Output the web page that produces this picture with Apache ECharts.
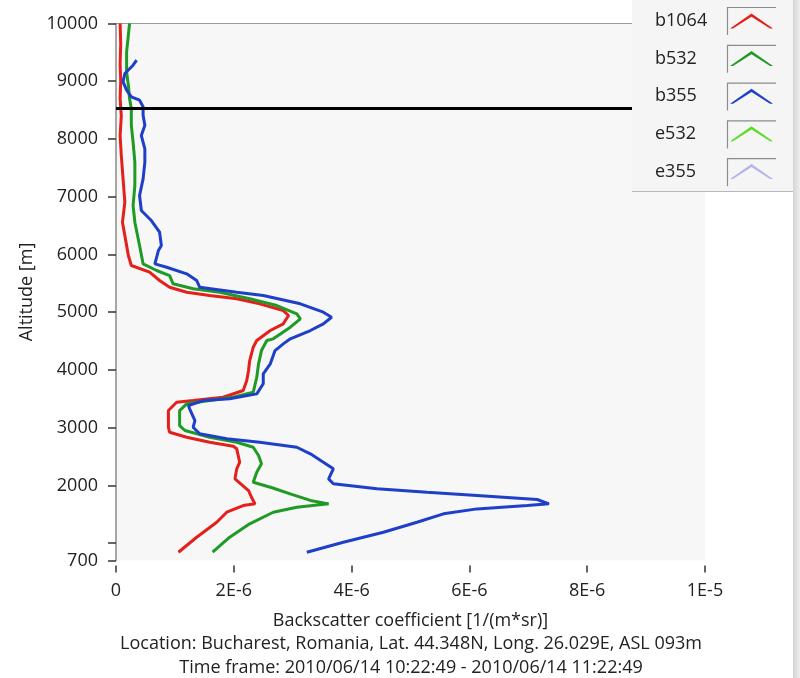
<!DOCTYPE html>
<html>
<head>
<meta charset="utf-8">
<title>Backscatter profiles</title>
<script src="https://cdn.jsdelivr.net/npm/echarts@6/dist/echarts.min.js"></script>
<style>
  html, body { margin: 0; padding: 0; background: #ffffff; }
  #chart { width: 800px; height: 678px; }
</style>
</head>
<body>
<div id="chart"></div>
<script>
// Backscatter coefficient profiles, values in units of 1E-6 1/(m*sr)
const UNIT = 1e-6;

const ALT_B1064 = [843, 1103, 1363, 1536, 1652, 1681, 1795, 1912, 2114, 2287, 2402, 2634, 2679, 2748, 2835, 2921, 3008, 3297, 3441, 3470, 3527, 3644, 3817, 3990, 4163, 4394, 4510, 4683, 4799, 4943, 5029, 5145, 5232, 5289, 5346, 5433, 5549, 5693, 5809, 5982, 6328, 6559, 6905, 7310, 7714, 8060, 8400, 8700, 9000, 9300, 9650, 10000];
const VAL_B1064 = [1.06, 1.37, 1.71, 1.88, 2.16, 2.36, 2.30, 2.25, 2.02, 2.05, 2.10, 2.05, 1.99, 1.59, 1.20, 0.91, 0.89, 0.89, 1.03, 1.31, 1.82, 2.16, 2.22, 2.25, 2.27, 2.33, 2.39, 2.62, 2.84, 2.93, 2.84, 2.44, 2.05, 1.59, 1.20, 0.91, 0.74, 0.57, 0.26, 0.21, 0.15, 0.11, 0.15, 0.12, 0.09, 0.07, 0.09, 0.07, 0.08, 0.07, 0.08, 0.07];

const ALT_B532 = [843, 1103, 1335, 1536, 1622, 1681, 1740, 1850, 1960, 2055, 2228, 2374, 2518, 2661, 2748, 2835, 2951, 3037, 3297, 3413, 3470, 3527, 3614, 3874, 4106, 4336, 4510, 4539, 4740, 4885, 4972, 5116, 5232, 5346, 5405, 5492, 5635, 5722, 5838, 6155, 6559, 6848, 7194, 7598, 7944, 8239, 8528, 8701, 8931, 9163, 9510, 9797, 10000];
const VAL_B532 = [1.64, 1.93, 2.27, 2.67, 3.07, 3.61, 3.30, 2.97, 2.65, 2.33, 2.39, 2.47, 2.42, 2.33, 2.05, 1.59, 1.17, 1.08, 1.08, 1.20, 1.59, 1.99, 2.33, 2.39, 2.42, 2.47, 2.56, 2.67, 2.96, 3.13, 3.07, 2.73, 2.27, 1.76, 1.31, 0.97, 0.91, 0.69, 0.46, 0.40, 0.32, 0.29, 0.32, 0.32, 0.29, 0.26, 0.26, 0.23, 0.21, 0.18, 0.18, 0.21, 0.23];

const ALT_B355 = [843, 1016, 1189, 1363, 1508, 1594, 1652, 1681, 1756, 1825, 1882, 1941, 2028, 2114, 2287, 2402, 2547, 2661, 2748, 2807, 2894, 3008, 3124, 3327, 3384, 3470, 3500, 3586, 3760, 3933, 4106, 4336, 4452, 4539, 4683, 4799, 4913, 5000, 5145, 5289, 5346, 5433, 5549, 5665, 5779, 5838, 6068, 6155, 6385, 6588, 6761, 7021, 7310, 7598, 7830, 8060, 8239, 8412, 8557, 8672, 8730, 8845, 8990, 9134, 9278, 9364];
const VAL_B355 = [3.24, 3.86, 4.54, 5.11, 5.56, 6.13, 6.98, 7.35, 7.15, 6.13, 5.28, 4.43, 3.69, 3.61, 3.69, 3.52, 3.30, 3.07, 2.44, 1.88, 1.42, 1.31, 1.34, 1.25, 1.23, 1.48, 1.93, 2.39, 2.50, 2.50, 2.62, 2.70, 2.84, 2.96, 3.30, 3.52, 3.66, 3.52, 3.13, 2.50, 2.05, 1.42, 1.37, 1.20, 0.86, 0.66, 0.72, 0.77, 0.74, 0.60, 0.43, 0.40, 0.46, 0.49, 0.49, 0.43, 0.49, 0.46, 0.46, 0.40, 0.26, 0.18, 0.12, 0.15, 0.29, 0.35];

// Extinction channels are listed in the legend but carry no profile here
const ALT_E532 = [];
const VAL_E532 = [];
const ALT_E355 = [];
const VAL_E355 = [];

const SERIES_NAMES = ['b1064', 'b532', 'b355', 'e532', 'e355'];
const SERIES_COLORS = ['#e3201c', '#1f9a25', '#1e3fc8', '#5ddc2a', '#b4b4ec'];

// Reference altitude marker (horizontal line)
const MARK_ALTITUDE = 8530;

const Y_LABEL_VALUES = [700, 2000, 3000, 4000, 5000, 6000, 7000, 8000, 9000, 10000];
const Y_TICK_VALUES = [700, 1000, 2000, 3000, 4000, 5000, 6000, 7000, 8000, 9000, 10000];

const X_NAME = 'Backscatter coefficient [1/(m*sr)]';
const Y_NAME = 'Altitude [m]';
const INFO_LINES = [
  'Location: Bucharest, Romania, Lat. 44.348N, Long. 26.029E, ASL 093m',
  'Time frame: 2010/06/14 10:22:49 - 2010/06/14 11:22:49'
];

const FONT = '"Open Sans", "DejaVu Sans", sans-serif';
const TEXT_COLOR = '#222222';

function pairs(alts, vals) {
  return alts.map((a, i) => [vals[i] * UNIT, a]);
}

const profiles = [
  pairs(ALT_B1064, VAL_B1064),
  pairs(ALT_B532, VAL_B532),
  pairs(ALT_B355, VAL_B355),
  pairs(ALT_E532, VAL_E532),
  pairs(ALT_E355, VAL_E355)
];

const caret = 'path://M0,15 L21.5,0 L43,15 L40,15 L21.5,3.2 L3,15 Z';

const chart = echarts.init(document.getElementById('chart'), null, { renderer: 'canvas' });

const series = SERIES_NAMES.map((name, i) => ({
  name: name,
  type: 'line',
  xAxisIndex: 0,
  yAxisIndex: 0,
  data: profiles[i],
  showSymbol: false,
  symbol: 'none',
  animation: false,
  z: 2,
  lineStyle: { color: SERIES_COLORS[i], width: 3 },
  itemStyle: { color: SERIES_COLORS[i] }
}));

series[2].markLine = {
  silent: true,
  symbol: 'none',
  animation: false,
  z: 3,
  label: { show: false },
  lineStyle: { color: '#000000', width: 3, type: 'solid' },
  data: [{ yAxis: MARK_ALTITUDE }]
};

// Legend panel, its shadow and the icon boxes
const LEGEND_ROW = 37.8;
const legendGraphics = [
  {
    type: 'rect', z: 20, silent: true,
    shape: { x: 632, y: 0, width: 161, height: 192 },
    style: { fill: '#f5f5f5' }
  },
  {
    type: 'line', z: 20, silent: true,
    shape: { x1: 632, y1: 191.5, x2: 793, y2: 191.5 },
    style: { stroke: '#b8b8b8', lineWidth: 1 }
  },
  {
    type: 'rect', z: 20, silent: true,
    shape: { x: 793, y: 0, width: 7, height: 678 },
    style: {
      fill: new echarts.graphic.LinearGradient(0, 0, 1, 0, [
        { offset: 0, color: '#d4d4d4' },
        { offset: 1, color: '#eeeeee' }
      ])
    }
  }
];
for (let i = 0; i < SERIES_NAMES.length; i++) {
  const y0 = 7 + i * LEGEND_ROW;
  legendGraphics.push({
    type: 'polyline', z: 22, silent: true,
    shape: { points: [[727.5, y0 + 28], [727.5, y0 + 0.5], [776, y0 + 0.5]] },
    style: { stroke: '#8c8c8c', lineWidth: 1.2, fill: null }
  });
}

const infoGraphics = INFO_LINES.map((t, i) => ({
  type: 'text', z: 22, silent: true,
  x: 411, y: 644 + i * 24,
  style: {
    text: t, fill: TEXT_COLOR, font: '18px ' + FONT,
    align: 'center', verticalAlign: 'middle'
  }
}));

const option = {
  backgroundColor: '#ffffff',
  animation: false,
  textStyle: { fontFamily: FONT },
  grid: {
    left: 116, right: 95, top: 23.5, bottom: 117.5,
    show: true, backgroundColor: '#f7f7f7', borderWidth: 0
  },
  legend: {
    orient: 'vertical',
    left: 655,
    top: 12,
    padding: 0,
    itemGap: 19.6,
    itemWidth: 43,
    itemHeight: 15,
    align: 'right',
    icon: caret,
    selectedMode: false,
    z: 21,
    formatter: name => '{a|' + name + '}',
    textStyle: {
      fontFamily: FONT, fontSize: 18, color: TEXT_COLOR,
      rich: { a: { fontFamily: FONT, fontSize: 18, color: TEXT_COLOR, width: 70, align: 'left' } }
    },
    data: SERIES_NAMES
  },
  xAxis: [
    {
      type: 'value',
      position: 'bottom',
      min: 0, max: 1e-5, interval: 2e-6,
      offset: 5,
      name: X_NAME,
      nameLocation: 'middle',
      nameGap: 46,
      nameTextStyle: { fontFamily: FONT, fontSize: 18, color: TEXT_COLOR },
      axisLine: { show: false },
      axisTick: { show: true, inside: false, length: 7, lineStyle: { color: '#333333', width: 1.5 } },
      axisLabel: {
        fontFamily: FONT, fontSize: 18, color: TEXT_COLOR, margin: 16,
        formatter: v => v === 0 ? '0' : v.toExponential(0).toUpperCase()
      },
      splitLine: { show: false }
    },
    {
      type: 'value',
      position: 'top',
      min: 0, max: 1e-5,
      axisLine: { show: true, lineStyle: { color: '#9a9a9a', width: 1.2 } },
      axisTick: { show: false },
      axisLabel: { show: false },
      splitLine: { show: false }
    }
  ],
  yAxis: [
    {
      type: 'value',
      position: 'left',
      min: 700, max: 10000,
      offset: 4,
      name: Y_NAME,
      nameLocation: 'middle',
      nameRotate: 90,
      nameGap: 72,
      nameTextStyle: { fontFamily: FONT, fontSize: 18, color: TEXT_COLOR },
      axisLine: { show: false },
      axisTick: { show: true, length: 8, customValues: Y_TICK_VALUES, lineStyle: { color: '#333333', width: 1.5 } },
      axisLabel: {
        fontFamily: FONT, fontSize: 18, color: TEXT_COLOR, margin: 14,
        customValues: Y_LABEL_VALUES,
        formatter: v => String(v)
      },
      splitLine: { show: false }
    },
    {
      type: 'value',
      position: 'left',
      min: 700, max: 10000,
      axisLine: { show: true, lineStyle: { color: '#8a8a8a', width: 1.5 } },
      axisTick: { show: false },
      axisLabel: { show: false },
      splitLine: { show: false }
    }
  ],
  series: series,
  graphic: legendGraphics.concat(infoGraphics)
};

chart.setOption(option);
</script>
</body>
</html>
